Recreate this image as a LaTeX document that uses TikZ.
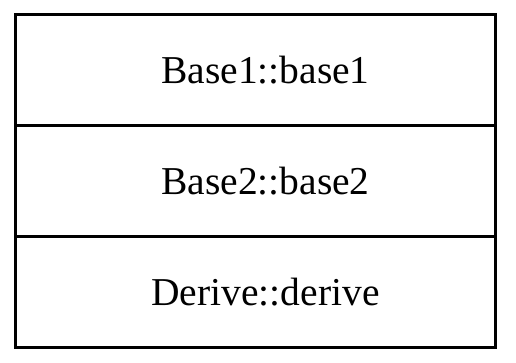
\documentclass[tikz,border=0pt]{standalone}
\usepackage{fontspec}
\setmainfont{Liberation Serif}
\usepackage{tikz}
\usetikzlibrary{positioning}

\begin{document}
\begin{tikzpicture}
  [x=1pt,y=1pt,
   every node/.style={rectangle, draw=black, line width=3pt, outer sep=0pt, minimum width=480pt, minimum height=111pt, inner sep=0pt},
   every label/.style={draw=none, minimum width=0pt, minimum height=0pt, xshift=10pt, font=\fontsize{39.5}{42}\selectfont}]
  \useasboundingbox (0,0) rectangle (516,-363);
  \node [label=center:Base1::base1] (base1) at (255.5,-70) {};
  \node [below=0pt of base1, label=center:Base2::base2] (base2) {};
  \node [below=0pt of base2, label=center:Derive::derive] (derive) {};
\end{tikzpicture}
\end{document}
